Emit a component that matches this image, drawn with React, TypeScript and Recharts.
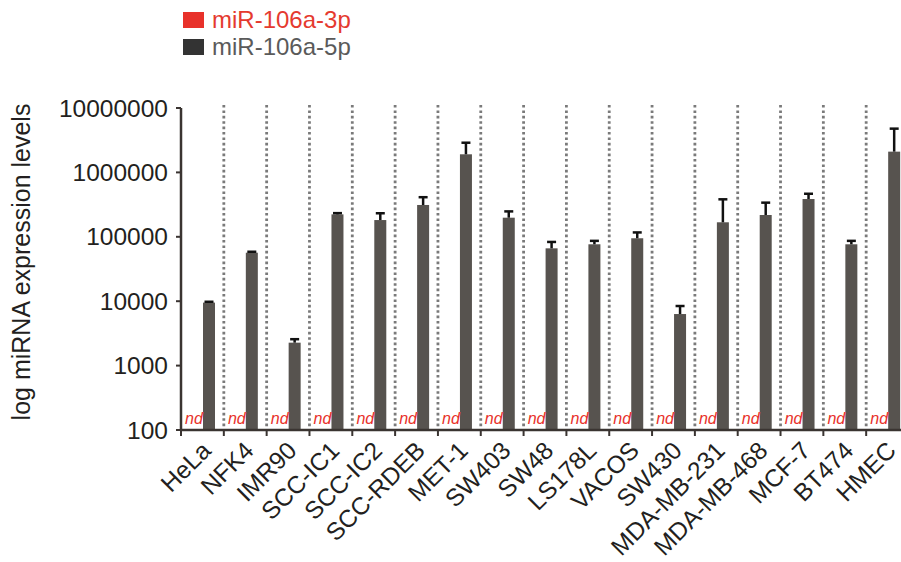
import React from 'react';
import {
  BarChart, Bar, XAxis, YAxis, Legend, LabelList,
} from 'recharts';

// cell lines, left to right
const cells = [
  'HeLa', 'NFK4', 'IMR90', 'SCC-IC1', 'SCC-IC2', 'SCC-RDEB', 'MET-1', 'SW403', 'SW48',
  'LS178L', 'VACOS', 'SW430', 'MDA-MB-231', 'MDA-MB-468', 'MCF-7', 'BT474', 'HMEC',
];
// miR-106a-5p mean levels and (upper) SD
const mir5p = [
  9500, 56600, 2270, 223000, 182000, 312000, 1910000, 198000, 66200,
  76500, 94900, 6320, 168000, 218000, 386000, 76500, 2100000,
];
const mir5pErr = [
  300, 2000, 300, 10000, 50000, 100000, 980000, 50000, 17000,
  10000, 22000, 2100, 214000, 121000, 80000, 10000, 2680000,
];
// miR-106a-3p was not detected anywhere
const mir3p: (number | null)[] = cells.map(() => null);
const mir3pLabel = cells.map(() => 'nd');
const yDomain = [100, 10000000];
const yTicks = [100, 1000, 10000, 100000, 1000000, 10000000];

const RED = '#e8312a';
const BAR = '#57534f';
const AXIS = '#3a3431';
const INK = '#231f20';
const DOTS = '#7a7a7a';
const FONT = '"Liberation Sans", Arial, sans-serif';
const BAR_SIZE = 12;
const BAR_GAP = 1;

const CHART_W = 901;
const CHART_H = 562;
const TOP = 108;
const X_AXIS_H = 132;
const PLOT_H = CHART_H - TOP - X_AXIS_H;

const legendColors: Record<string, { box: string; text: string }> = {
  m3p: { box: RED, text: '#e53a2f' },
  m5p: { box: '#333333', text: '#5a5a5a' },
};

const data = cells.map((c, i) => ({
  cell: c,
  m3p: mir3p[i],
  m5p: mir5p[i],
  m5pErr: mir5pErr[i],
  nd: mir3pLabel[i],
}));

const LegendContent = ({ payload }: any) => (
  <div style={{ fontFamily: FONT, fontSize: 24 }}>
    {(payload || []).map((p: any) => {
      const c = legendColors[p.dataKey] || { box: p.color, text: p.color };
      return (
        <div key={p.dataKey} style={{ display: 'flex', alignItems: 'center', height: 27 }}>
          <span style={{ display: 'inline-block', width: 21, height: 16, background: c.box, marginRight: 8 }} />
          <span style={{ color: c.text, lineHeight: '27px' }}>{p.value}</span>
        </div>
      );
    })}
  </div>
);

// category label + the dotted separators between cell lines
const XTick = ({ x, y, payload, index }: any) => {
  const half = payload?.offset ?? 21;
  const last = index === cells.length - 1;
  return (
    <g>
      {index === 0 && <line x1={x - half} x2={x - half} y1={y} y2={y + 6} stroke={AXIS} strokeWidth={2} />}
      {!last && (
        <line x1={x + half} x2={x + half} y1={y - PLOT_H - 3} y2={y - 1.5}
          stroke={DOTS} strokeWidth={2.8} strokeDasharray="2.6 2.8" />
      )}
      <line x1={x + half} x2={x + half} y1={y} y2={y + 6} stroke={AXIS} strokeWidth={2} />
      <text transform={`translate(${x + 10},${y + 22}) rotate(-45)`} textAnchor="end"
        fontSize={24.5} fontFamily={FONT} fill={INK}>
        {payload.value}
      </text>
    </g>
  );
};

// bar with a one-sided (upper) SD whisker; whisker length follows the bar's own log scale
const BarWithErr = (props: any) => {
  const { x, y, width, height, fill, payload } = props;
  if (!(height > 0)) return null;
  const v = payload.m5p;
  const e = payload.m5pErr;
  const ppd = height / (Math.log10(v) - Math.log10(yDomain[0]));
  const yTop = y - Math.log10((v + e) / v) * ppd;
  const cx = x + width / 2;
  return (
    <g>
      <rect x={x} y={y} width={width} height={height} fill={fill} />
      <line x1={cx} x2={cx} y1={y} y2={yTop} stroke="#111" strokeWidth={2.5} />
      <line x1={cx - 4.5} x2={cx + 4.5} y1={yTop} y2={yTop} stroke="#111" strokeWidth={2.5} />
    </g>
  );
};

const NdLabel = (props: any) => {
  const { x, y, height, value } = props;
  if (!value) return null;
  return (
    <text x={x - BAR_GAP - BAR_SIZE / 2 - 2} y={y + height - 6} textAnchor="middle"
      fontSize={16} fontStyle="italic" fontFamily={FONT} fill={RED}>
      {value}
    </text>
  );
};

const YLabel = (props: any) => {
  const vb = props.viewBox || { x: 0, y: TOP, width: 181, height: PLOT_H };
  const cx = vb.x + 30;
  const cy = vb.y + vb.height / 2 - 7;
  return (
    <text transform={`translate(${cx},${cy}) rotate(-90)`} textAnchor="middle"
      fontSize={25} fontFamily={FONT} fill={INK}>
      log miRNA expression levels
    </text>
  );
};

export default function App() {
  return (
    <div style={{ position: 'absolute', left: 0, top: 0, width: CHART_W, height: CHART_H, background: '#fff', fontFamily: FONT }}>
      <BarChart width={CHART_W} height={CHART_H} data={data} barGap={BAR_GAP}
        margin={{ top: TOP, right: -8, bottom: 0, left: 0 }}>
        <XAxis dataKey="cell" interval={0} height={X_AXIS_H} tickSize={0} tickMargin={0} tickLine={false}
          axisLine={{ stroke: AXIS, strokeWidth: 2.5 }} tick={<XTick />} />
        <YAxis scale="log" domain={yDomain} ticks={yTicks} width={181}
          allowDataOverflow tickSize={5} tickMargin={8}
          tickFormatter={(v: number) => String(v)}
          tick={{ fontSize: 24.5, fill: INK, fontFamily: FONT }}
          axisLine={{ stroke: AXIS, strokeWidth: 2.5 }} tickLine={{ stroke: AXIS, strokeWidth: 2 }}
          label={<YLabel />} />
        <Legend layout="vertical" align="center" verticalAlign="middle"
          wrapperStyle={{ top: 6, left: 183, width: 'auto' }} content={<LegendContent />} />
        <Bar dataKey="m3p" name="miR-106a-3p" fill={RED} barSize={BAR_SIZE} isAnimationActive={false} />
        <Bar dataKey="m5p" name="miR-106a-5p" fill={BAR} barSize={BAR_SIZE} isAnimationActive={false}
          shape={<BarWithErr />}>
          <LabelList dataKey="nd" content={<NdLabel />} />
        </Bar>
      </BarChart>
    </div>
  );
}
